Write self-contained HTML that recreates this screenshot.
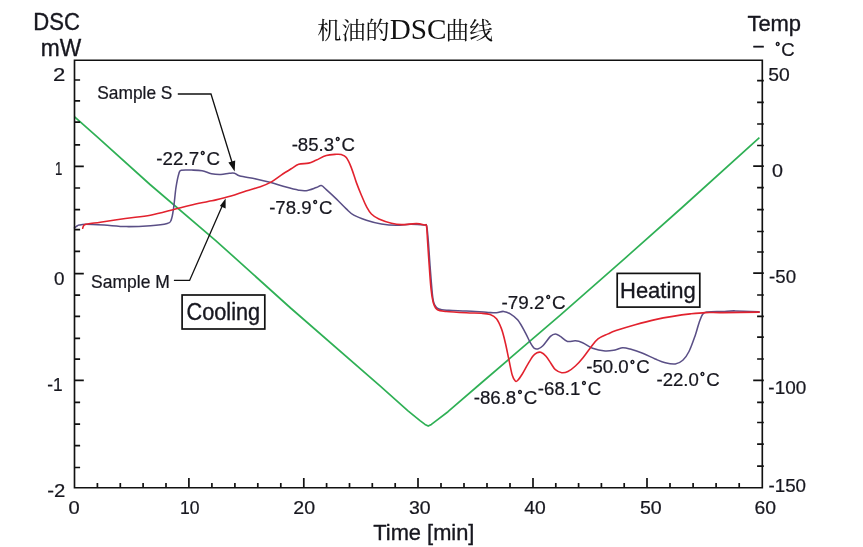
<!DOCTYPE html>
<html lang="zh"><head><meta charset="utf-8"><title>机油的DSC曲线</title>
<style>html,body{margin:0;padding:0;background:#fff}svg{display:block;filter:blur(0.45px)}</style></head>
<body>
<svg width="863" height="547" viewBox="0 0 863 547">
<rect width="863" height="547" fill="#ffffff"/>
<polyline points="74.6,116.8 97.2,136.9 150,184.5 216,240.8 290,307.5 380,385.8 408,410.8 420,420.6 425,424.4 428.2,426.1 431.4,424.4 436,420.8 448,411.7 481.8,382.5 560,315.3 625.5,257.8 682.1,207.5 759.4,137.6" fill="none" stroke="#2fb055" stroke-width="1.7" stroke-linejoin="round"/>
<path d="M74.5,227.9 C74.8,227.6 75.7,226.8 76.5,226.3 C77.3,225.8 77.6,225.4 79.1,225.1 C80.6,224.8 81.4,224.3 85.6,224.3 C89.8,224.3 97.4,224.7 104.2,225.1 C111.0,225.5 118.7,226.5 126.4,226.6 C134.1,226.7 143.7,226.2 150.5,225.7 C157.3,225.2 163.7,224.4 167.2,223.4 C170.7,222.4 170.2,222.2 171.3,219.6 C172.4,217.0 172.8,213.3 173.6,208.0 C174.4,202.7 175.1,193.6 175.9,188.0 C176.8,182.4 177.8,177.2 178.7,174.3 C179.6,171.4 179.0,171.0 181.2,170.3 C183.4,169.6 188.2,170.0 191.7,170.1 C195.2,170.2 198.8,170.2 202.1,170.8 C205.4,171.4 208.4,173.1 211.5,173.7 C214.6,174.3 218.0,174.5 220.9,174.4 C223.8,174.3 226.9,173.5 229.2,173.3 C231.5,173.1 232.7,172.8 234.5,173.2 C236.3,173.6 236.3,175.1 239.9,176.0 C243.5,176.9 250.8,177.8 256.0,178.9 C261.2,180.0 266.0,181.2 271.0,182.6 C276.0,184.0 281.4,185.8 286.0,187.1 C290.6,188.4 295.3,189.6 298.7,190.2 C302.1,190.8 303.3,191.1 306.2,190.7 C309.1,190.3 313.8,188.4 316.3,187.6 C318.8,186.8 319.6,185.3 321.3,185.6 C323.0,185.9 323.8,187.4 326.3,189.6 C328.8,191.8 333.0,195.7 336.3,198.9 C339.6,202.1 343.4,206.2 346.3,208.9 C349.2,211.6 350.5,213.3 353.8,215.2 C357.1,217.1 361.8,218.7 366.4,220.2 C371.0,221.7 376.4,223.2 381.4,224.0 C386.4,224.8 391.6,225.2 396.5,225.2 C401.4,225.2 406.4,224.2 411.0,224.2 C415.6,224.2 421.4,224.7 424.0,225.0 C426.6,225.3 425.9,223.3 426.6,225.8 C427.3,228.3 427.6,233.5 428.2,240.1 C428.8,246.7 429.3,256.0 430.0,265.2 C430.7,274.4 431.8,288.8 432.5,295.3 C433.2,301.9 433.4,302.2 434.5,304.5 C435.6,306.8 436.4,308.0 438.8,309.0 C441.2,310.0 444.2,310.0 448.8,310.3 C453.4,310.6 460.0,310.7 466.3,311.0 C472.6,311.3 481.4,312.0 486.4,312.3 C491.4,312.6 493.5,313.0 496.4,312.8 C499.2,312.6 501.2,311.2 503.5,311.4 C505.8,311.6 507.9,312.4 510.3,313.8 C512.7,315.2 515.3,317.0 517.8,320.1 C520.3,323.2 523.2,328.8 525.3,332.6 C527.4,336.4 528.8,340.1 530.3,342.7 C531.8,345.3 532.9,347.2 534.1,348.2 C535.4,349.2 536.3,349.3 537.8,348.9 C539.3,348.5 540.8,347.8 542.9,345.7 C545.0,343.6 548.3,338.4 550.4,336.4 C552.5,334.4 553.7,333.9 555.4,333.9 C557.1,333.9 558.4,335.1 560.4,336.4 C562.4,337.6 565.0,340.7 567.5,341.4 C570.0,342.1 572.9,340.6 575.4,340.8 C577.9,341.0 579.7,341.5 582.6,342.7 C585.5,343.9 588.9,346.8 592.6,348.2 C596.4,349.6 601.4,350.6 605.1,350.9 C608.9,351.2 612.2,350.4 615.1,349.9 C618.0,349.4 620.2,347.8 622.7,347.7 C625.2,347.6 626.9,348.1 630.2,349.0 C633.5,349.9 638.5,351.5 642.7,353.2 C646.9,354.9 651.4,357.4 655.2,359.0 C659.0,360.6 661.9,362.0 665.3,362.8 C668.6,363.6 672.4,364.4 675.3,364.0 C678.2,363.6 680.5,362.4 682.8,360.3 C685.1,358.2 686.9,355.7 689.0,351.5 C691.1,347.3 693.6,340.0 695.3,335.2 C697.0,330.4 697.8,326.2 699.1,322.7 C700.4,319.1 701.4,315.7 702.9,313.9 C704.4,312.1 704.6,312.3 707.9,311.9 C711.2,311.5 718.3,311.6 722.9,311.4 C727.5,311.2 729.3,310.8 735.4,310.9 C741.5,311.0 755.2,311.7 759.2,311.9" fill="none" stroke="#5a4f86" stroke-width="1.55" stroke-linejoin="round" stroke-linecap="round"/>
<path d="M82.7,228.2 C82.9,227.7 83.2,225.9 84.0,225.2 C84.8,224.5 85.0,224.5 87.7,224.0 C90.4,223.5 94.0,223.1 100.3,222.2 C106.6,221.3 116.9,219.7 125.3,218.5 C133.7,217.3 142.5,216.7 150.4,215.2 C158.3,213.7 166.3,211.4 173.0,209.7 C179.7,208.0 184.7,206.6 190.5,205.2 C196.3,203.8 203.8,202.4 208.0,201.5 C212.2,200.6 212.2,200.8 216.0,199.9 C219.8,199.0 226.0,197.5 231.0,196.0 C236.0,194.5 241.0,192.5 246.0,190.9 C251.0,189.3 256.8,187.9 261.0,186.4 C265.2,184.9 267.6,184.0 271.0,182.1 C274.4,180.2 277.8,177.3 281.2,175.1 C284.6,172.9 288.3,170.6 291.2,168.8 C294.1,167.0 295.8,165.2 298.7,164.3 C301.6,163.4 305.8,163.8 308.7,163.1 C311.6,162.4 313.4,161.3 316.3,160.1 C319.2,158.8 323.0,156.6 326.3,155.6 C329.6,154.6 333.8,154.5 336.3,154.3 C338.8,154.1 339.6,154.1 341.3,154.6 C343.0,155.1 344.6,155.4 346.3,157.6 C348.0,159.8 349.6,163.4 351.3,167.6 C353.0,171.8 354.7,178.0 356.4,182.6 C358.1,187.2 359.7,191.2 361.4,195.2 C363.1,199.2 364.7,203.3 366.4,206.4 C368.1,209.5 369.3,211.9 371.4,214.0 C373.5,216.1 375.6,217.5 378.9,219.0 C382.2,220.5 387.6,222.3 391.4,223.2 C395.2,224.1 397.3,224.5 401.5,224.6 C405.7,224.7 412.7,223.5 416.5,223.6 C420.3,223.7 422.8,224.6 424.5,225.0 C426.2,225.4 426.0,223.5 426.5,226.0 C427.0,228.5 427.1,233.5 427.5,240.0 C427.9,246.5 428.6,256.8 429.2,265.2 C429.8,273.6 430.4,283.7 431.2,290.2 C431.9,296.7 432.6,300.7 433.7,304.0 C434.8,307.3 435.4,308.6 437.5,309.8 C439.6,311.1 441.5,311.0 446.3,311.5 C451.1,312.0 460.5,312.5 466.3,312.8 C472.1,313.1 477.4,313.0 481.4,313.3 C485.4,313.6 487.7,313.7 490.2,314.6 C492.7,315.5 494.6,316.4 496.5,318.8 C498.4,321.2 500.0,324.9 501.5,328.9 C503.0,332.9 504.1,337.5 505.3,342.7 C506.6,347.9 507.8,354.8 509.0,360.2 C510.2,365.6 511.2,371.7 512.3,375.2 C513.3,378.7 514.4,380.1 515.3,381.0 C516.2,381.9 516.6,381.5 517.8,380.3 C519.0,379.1 520.7,376.5 522.3,374.0 C523.9,371.5 525.6,368.1 527.3,365.2 C529.0,362.3 531.0,358.5 532.6,356.4 C534.2,354.3 535.6,353.5 537.0,352.8 C538.4,352.1 539.3,351.7 540.8,352.3 C542.3,352.9 544.3,354.3 546.0,356.2 C547.7,358.1 549.4,361.2 551.0,363.5 C552.6,365.8 553.6,368.2 555.4,369.7 C557.2,371.2 559.6,372.4 561.7,372.7 C563.8,373.0 565.6,372.6 567.9,371.5 C570.2,370.4 572.9,368.3 575.4,366.0 C577.9,363.7 580.5,360.8 583.0,357.7 C585.5,354.6 588.0,350.8 590.5,347.7 C593.0,344.6 595.1,341.2 598.0,338.9 C600.9,336.6 605.0,335.3 608.0,333.9 C611.0,332.5 611.5,332.1 616.0,330.6 C620.5,329.1 628.7,326.5 635.2,324.7 C641.7,322.9 648.9,321.0 655.2,319.6 C661.5,318.2 666.9,317.3 672.8,316.4 C678.6,315.4 684.9,314.5 690.3,313.9 C695.7,313.3 700.0,312.8 705.4,312.6 C710.8,312.4 713.9,312.7 722.9,312.6 C731.9,312.5 753.2,312.2 759.2,312.1" fill="none" stroke="#e2222e" stroke-width="1.6" stroke-linejoin="round" stroke-linecap="round"/>
<path d="M74.5,60.2 H762.3 V487.7 H74.5 Z" fill="none" stroke="#111" stroke-width="1.65"/>
<path d="M74.5,467.5 H80.1 M763.8,466.1 H757.1 M74.5,445.6 H80.1 M763.8,444.2 H757.1 M74.5,424.2 H80.1 M763.8,422.5 H757.1 M74.5,402.3 H80.1 M763.8,402.3 H757.1 M74.5,380.4 H83.8 M763.8,380.4 H753.2 M74.5,359.1 H80.1 M763.8,359.0 H757.1 M74.5,338.4 H80.1 M763.8,337.2 H757.1 M74.5,316.4 H80.1 M763.8,316.4 H757.1 M74.5,295.1 H80.1 M763.8,295.0 H757.1 M74.5,273.7 H83.8 M763.8,273.2 H753.2 M74.5,251.3 H80.1 M763.8,252.0 H757.1 M74.5,229.7 H80.1 M763.8,231.5 H757.1 M74.5,209.7 H80.1 M763.8,209.7 H757.1 M74.5,188.0 H80.1 M763.8,187.6 H757.1 M74.5,166.3 H83.8 M763.8,166.1 H753.2 M74.5,144.9 H80.1 M763.8,145.5 H757.1 M74.5,122.1 H80.1 M763.8,124.0 H757.1 M74.5,100.8 H80.1 M763.8,102.3 H757.1 M74.5,80.0 H80.1 M763.8,80.7 H757.1 M97.4,487.7 v-4.7 M120.3,487.7 v-4.7 M143.1,487.7 v-4.7 M166.0,487.7 v-4.7 M188.9,487.7 v-9.8 M211.9,487.7 v-4.7 M234.9,487.7 v-4.7 M257.8,487.7 v-4.7 M280.8,487.7 v-4.7 M303.8,487.7 v-9.8 M326.6,487.7 v-4.7 M349.5,487.7 v-4.7 M372.3,487.7 v-4.7 M395.2,487.7 v-4.7 M418.0,487.7 v-9.8 M441.0,487.7 v-4.7 M464.0,487.7 v-4.7 M487.0,487.7 v-4.7 M510.0,487.7 v-4.7 M533.0,487.7 v-9.8 M555.8,487.7 v-4.7 M578.6,487.7 v-4.7 M601.4,487.7 v-4.7 M624.2,487.7 v-4.7 M647.0,487.7 v-9.8 M670.0,487.7 v-4.7 M693.1,487.7 v-4.7 M716.1,487.7 v-4.7 M739.2,487.7 v-4.7" fill="none" stroke="#111" stroke-width="1.7"/>
<path d="M177.8,94 H211 L232.4,163.5" fill="none" stroke="#111" stroke-width="1.3"/>
<path d="M234.7,171.5 L228.4,162.6 L235.2,160.6 Z" fill="#111"/>
<path d="M173.9,280.4 H189.6 L222.3,205.8" fill="none" stroke="#111" stroke-width="1.3"/>
<path d="M225.6,198.6 L225.6,208.6 L219.9,206.1 Z" fill="#111"/>
<rect x="182.1" y="295" width="82.7" height="34" fill="#fff" stroke="#111" stroke-width="1.7"/>
<rect x="617.2" y="273.4" width="82.6" height="33.7" fill="#fff" stroke="#111" stroke-width="1.7"/>
<g font-family="Liberation Sans, sans-serif" fill="#17171f" stroke="#17171f" stroke-linejoin="round">
<text transform="translate(186.60 319.82) scale(0.9431 1)" font-size="23.00" stroke-width="0.36">Cooling</text>
<text transform="translate(620.02 298.42) scale(0.9770 1)" font-size="22.50" stroke-width="0.36">Heating</text>
<text transform="translate(33.31 29.82) scale(0.9559 1)" font-size="23.10" stroke-width="0.36">DSC</text>
<text transform="translate(40.70 55.82) scale(0.9773 1)" font-size="23.30" stroke-width="0.36">mW</text>
<text transform="translate(747.43 30.82) scale(1.0115 1)" font-size="21.70" stroke-width="0.36">Temp</text>
<text transform="translate(373.23 540.02) scale(0.9804 1)" font-size="22.30" stroke-width="0.36">Time [min]</text>
<text transform="translate(773.90 56.19) scale(0.9952 1)" font-size="18.60" stroke-width="0.22"><tspan font-size="12.28" dx="1.26" dy="-4.93" stroke-width="0.7">°</tspan><tspan dx="1.26" dy="4.93">C</tspan></text>
<text transform="translate(53.10 81.19) scale(1.1911 1)" font-size="18.60" stroke-width="0.22">2</text>
<text transform="translate(55.12 174.69) scale(0.7102 1)" font-size="18.60" stroke-width="0.22">1</text>
<text transform="translate(53.95 284.89) scale(1.0164 1)" font-size="18.60" stroke-width="0.22">0</text>
<text transform="translate(47.33 390.89) scale(0.9319 1)" font-size="18.60" stroke-width="0.22">-1</text>
<text transform="translate(47.19 496.69) scale(1.0942 1)" font-size="18.60" stroke-width="0.22">-2</text>
<text transform="translate(768.34 80.89) scale(1.0377 1)" font-size="18.60" stroke-width="0.22">50</text>
<text transform="translate(772.02 177.29) scale(1.0617 1)" font-size="18.60" stroke-width="0.22">0</text>
<text transform="translate(769.07 283.39) scale(1.0033 1)" font-size="18.60" stroke-width="0.22">-50</text>
<text transform="translate(768.36 393.59) scale(1.0186 1)" font-size="18.60" stroke-width="0.22">-100</text>
<text transform="translate(768.46 492.49) scale(1.0101 1)" font-size="18.60" stroke-width="0.22">-150</text>
<text transform="translate(68.60 514.09) scale(1.0843 1)" font-size="18.60" stroke-width="0.22">0</text>
<text transform="translate(179.99 514.29) scale(0.9445 1)" font-size="18.60" stroke-width="0.22">10</text>
<text transform="translate(293.33 514.29) scale(1.0531 1)" font-size="18.60" stroke-width="0.22">20</text>
<text transform="translate(409.03 514.29) scale(1.0481 1)" font-size="18.60" stroke-width="0.22">30</text>
<text transform="translate(524.33 514.29) scale(1.0382 1)" font-size="18.60" stroke-width="0.22">40</text>
<text transform="translate(639.93 514.29) scale(1.0533 1)" font-size="18.60" stroke-width="0.22">50</text>
<text transform="translate(754.44 514.29) scale(1.0426 1)" font-size="18.60" stroke-width="0.22">60</text>
<text transform="translate(156.37 165.39) scale(1.0068 1)" font-size="18.60" stroke-width="0.22">-22.7<tspan font-size="12.28" dx="1.26" dy="-4.93" stroke-width="0.7">°</tspan><tspan dx="1.26" dy="4.93">C</tspan></text>
<text transform="translate(291.67 150.69) scale(1.0003 1)" font-size="18.60" stroke-width="0.22">-85.3<tspan font-size="12.28" dx="1.26" dy="-4.93" stroke-width="0.7">°</tspan><tspan dx="1.26" dy="4.93">C</tspan></text>
<text transform="translate(269.17 214.09) scale(1.0003 1)" font-size="18.60" stroke-width="0.22">-78.9<tspan font-size="12.28" dx="1.26" dy="-4.93" stroke-width="0.7">°</tspan><tspan dx="1.26" dy="4.93">C</tspan></text>
<text transform="translate(501.56 309.39) scale(1.0133 1)" font-size="18.60" stroke-width="0.22">-79.2<tspan font-size="12.28" dx="1.26" dy="-4.93" stroke-width="0.7">°</tspan><tspan dx="1.26" dy="4.93">C</tspan></text>
<text transform="translate(473.67 404.09) scale(1.0052 1)" font-size="18.60" stroke-width="0.22">-86.8<tspan font-size="12.28" dx="1.26" dy="-4.93" stroke-width="0.7">°</tspan><tspan dx="1.26" dy="4.93">C</tspan></text>
<text transform="translate(537.87 395.09) scale(1.0003 1)" font-size="18.60" stroke-width="0.22">-68.1<tspan font-size="12.28" dx="1.26" dy="-4.93" stroke-width="0.7">°</tspan><tspan dx="1.26" dy="4.93">C</tspan></text>
<text transform="translate(586.27 373.49) scale(1.0020 1)" font-size="18.60" stroke-width="0.22">-50.0<tspan font-size="12.28" dx="1.26" dy="-4.93" stroke-width="0.7">°</tspan><tspan dx="1.26" dy="4.93">C</tspan></text>
<text transform="translate(656.47 385.89) scale(1.0003 1)" font-size="18.60" stroke-width="0.22">-22.0<tspan font-size="12.28" dx="1.26" dy="-4.93" stroke-width="0.7">°</tspan><tspan dx="1.26" dy="4.93">C</tspan></text>
<text transform="translate(97.23 98.69) scale(0.9806 1)" font-size="17.70" stroke-width="0.22">Sample S</text>
<text transform="translate(91.12 287.89) scale(0.9876 1)" font-size="17.70" stroke-width="0.22">Sample M</text>
<text transform="translate(753.55 51.35) scale(1.0399 1)" font-size="17.50" stroke-width="0.50">–</text>
</g>
<g fill="#111" font-family="Liberation Serif, Noto Serif CJK SC, serif">
<text x="317.3" y="38.9" font-size="24.1">机油的</text>
<text x="389.7" y="38.8" font-size="29.2">DSC</text>
<text x="445.6" y="38.9" font-size="23.7">曲线</text>
</g>
</svg>
</body></html>
